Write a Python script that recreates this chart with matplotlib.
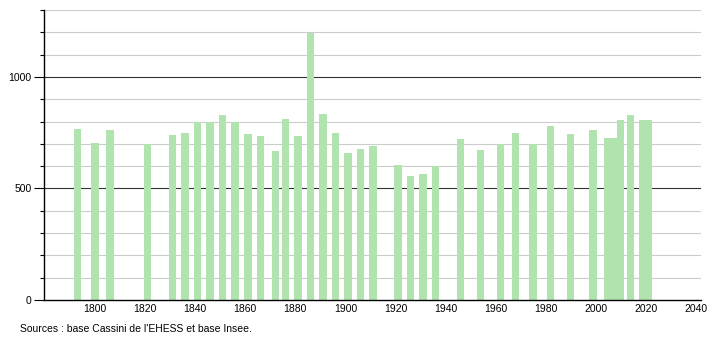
import numpy as np
import matplotlib.pyplot as plt

# census years and population
years = [1793, 1800, 1806, 1821, 1831, 1836, 1841, 1846, 1851, 1856,
         1861, 1866, 1872, 1876, 1881, 1886, 1891, 1896, 1901, 1906,
         1911, 1921, 1926, 1931, 1936, 1946, 1954, 1962, 1968, 1975,
         1982, 1990, 1999, 2005, 2007, 2010, 2014, 2019, 2021]
population = [768, 704, 764, 701, 740, 750, 798, 798, 831, 798,
              746, 734, 670, 812, 734, 1199, 836, 750, 661, 679,
              692, 607, 557, 566, 602, 722, 674, 701, 750, 701,
              779, 742, 760, 724, 724, 805, 831, 805, 805]

xticks = list(range(1800, 2041, 20))
yticks = [0, 500, 1000]
source_text = "Sources : base Cassini de l'EHESS et base Insee."

plt.rcParams['font.family'] = ['Liberation Sans', 'DejaVu Sans']

fig = plt.figure(figsize=(7.1, 3.4), dpi=100)
ax = fig.add_axes([0.062, 0.1176, 0.925, 0.853])

# grid lines every 100, darker at 500 / 1000
for v in range(100, 1301, 100):
    if v % 500 == 0:
        ax.axhline(v, color='#333333', lw=0.8, zorder=1)
    else:
        ax.axhline(v, color='#cccccc', lw=0.8, zorder=1)

ax.bar(years, population, width=3.0, color='#b0e3ae', zorder=2)

ax.set_xlim(1779.6, 2042)
ax.set_ylim(0, 1300)
ax.set_xticks(xticks)
ax.set_yticks(yticks)
ax.set_yticks(range(0, 1301, 100), minor=True)
ax.tick_params(axis='x', length=0, labelsize=7.5, pad=3)
ax.tick_params(axis='y', which='major', length=7, width=0.8, labelsize=7.5, pad=2)
ax.tick_params(axis='y', which='minor', length=3, width=0.8)

for s in ['top', 'right']:
    ax.spines[s].set_visible(False)
ax.spines['left'].set_linewidth(1.0)
ax.spines['bottom'].set_linewidth(1.0)

fig.text(20 / 710, 1 - 329 / 340, source_text, fontsize=7.5, va='center', ha='left')

fig.savefig('out.png', dpi=100)
